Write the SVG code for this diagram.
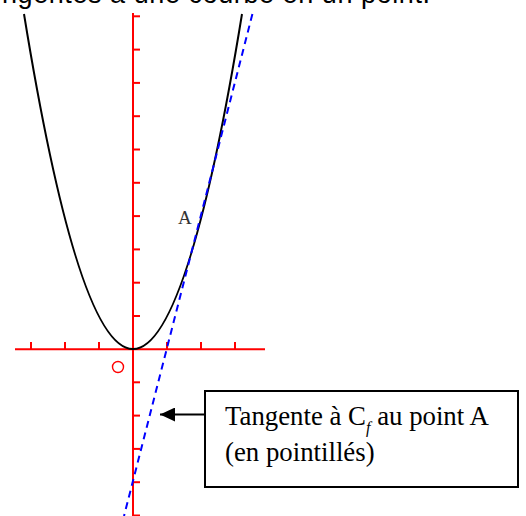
<svg xmlns="http://www.w3.org/2000/svg" width="526" height="516" viewBox="0 0 526 516">
<defs>
<style>
.ax{stroke:#ff0000;stroke-width:2;fill:none}
.tk{stroke:#ff0000;stroke-width:2}
.serif{font-family:"Liberation Serif","Times New Roman",serif;fill:#000}
</style>
<marker id="ah" markerWidth="16" markerHeight="14" refX="15" refY="7" orient="auto" markerUnits="userSpaceOnUse">
<path d="M0,0 L15,7 L0,14 Z" fill="#000"/>
</marker>
</defs>
<rect width="526" height="516" fill="#fff"/>
<g id="title">
<text x="2" y="3" font-family="'Comic Sans MS','Liberation Sans',sans-serif" font-size="27" textLength="428" fill="#000">ngentes à une courbe en un point.</text>
</g>
<g id="axes">
<line class="ax" x1="133" y1="13" x2="133" y2="516"/>
<line class="ax" x1="15" y1="349.3" x2="265" y2="349.3"/>
<g class="tk">
<line x1="133" y1="16.3" x2="140" y2="16.3"/>
<line x1="133" y1="49.6" x2="140" y2="49.6"/>
<line x1="133" y1="82.9" x2="140" y2="82.9"/>
<line x1="133" y1="116.2" x2="140" y2="116.2"/>
<line x1="133" y1="149.5" x2="140" y2="149.5"/>
<line x1="133" y1="182.8" x2="140" y2="182.8"/>
<line x1="133" y1="216.1" x2="140" y2="216.1"/>
<line x1="133" y1="249.4" x2="140" y2="249.4"/>
<line x1="133" y1="282.7" x2="140" y2="282.7"/>
<line x1="133" y1="316" x2="140" y2="316"/>
<line x1="133" y1="382.3" x2="140" y2="382.3"/>
<line x1="133" y1="415.6" x2="140" y2="415.6"/>
<line x1="133" y1="448.9" x2="140" y2="448.9"/>
<line x1="133" y1="482.2" x2="140" y2="482.2"/>
<line x1="133" y1="515.5" x2="140" y2="515.5"/>
<line x1="31" y1="342" x2="31" y2="349.3"/>
<line x1="65" y1="342" x2="65" y2="349.3"/>
<line x1="99" y1="342" x2="99" y2="349.3"/>
<line x1="167" y1="342" x2="167" y2="349.3"/>
<line x1="201" y1="342" x2="201" y2="349.3"/>
<line x1="235" y1="342" x2="235" y2="349.3"/>
</g>
<circle cx="118" cy="367" r="5.5" fill="none" stroke="#ff0000" stroke-width="1.4"/>
</g>
<g id="curve">
<path d="M24,14 Q133,684 242,14" fill="none" stroke="#000" stroke-width="2"/>
</g>
<g id="tangent">
<line x1="252.4" y1="14" x2="124" y2="516" stroke="#0000ff" stroke-width="2" stroke-dasharray="7 5"/>
</g>
<g id="pointA">
<text x="178" y="223.5" font-family="'Liberation Serif','Times New Roman',serif" font-size="19" fill="#333">A</text>
</g>
<g id="label">
<rect x="205" y="391" width="313" height="96" fill="#fff" stroke="#000" stroke-width="2"/>
<text class="serif" x="225" y="425" font-size="26.8">Tangente à C<tspan font-style="italic" font-size="16" dy="8">f</tspan><tspan dy="-8"> au point A</tspan></text>
<text class="serif" x="225" y="461" font-size="26.8">(en pointillés)</text>
</g>
<g id="connectors">
<line x1="205" y1="414.5" x2="160" y2="414.5" stroke="#000" stroke-width="2" marker-end="url(#ah)"/>
</g>
</svg>
